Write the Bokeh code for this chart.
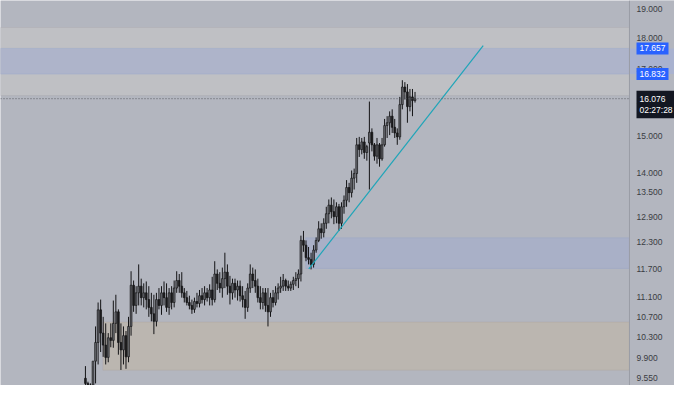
import numpy as np
from bokeh.plotting import figure
from bokeh.models import Range1d, Label, BoxAnnotation, Span, ColumnDataSource
from bokeh.embed import file_html
from bokeh.resources import INLINE

opens = [9.54, 9.45, 9.37, 9.42, 9.85, 10.20, 10.84, 10.38, 10.15, 9.92,
         10.29, 10.24, 10.57, 10.80, 10.20, 10.06, 10.33, 9.93, 10.51, 11.35,
         10.93, 11.19, 11.33, 11.09, 11.19, 11.05, 10.89, 10.76, 10.61, 11.05,
         10.93, 11.19, 11.09, 10.89, 11.19, 10.99, 11.29, 11.45, 11.33, 11.19,
         11.09, 10.99, 10.93, 10.85, 11.01, 10.97, 11.13, 11.05, 11.19, 11.09,
         11.25, 11.05, 11.59, 11.39, 11.29, 11.49, 11.63, 11.33, 11.19, 11.39,
         11.25, 11.33, 11.13, 11.05, 10.89, 11.29, 11.59, 11.45, 11.33, 11.09,
         10.99, 11.19, 10.93, 10.80, 11.09, 10.99, 11.19, 11.29, 11.33, 11.45,
         11.33, 11.29, 11.37, 11.45, 11.49, 11.59, 12.34, 12.23, 11.95, 11.91,
         11.80, 12.12, 12.34, 12.61, 12.52, 12.74, 12.97, 13.18, 13.02, 12.90,
         13.14, 12.74, 13.14, 13.30, 13.62, 13.49, 13.86, 13.98, 14.75, 14.62,
         14.83, 14.54, 14.80, 15.10, 14.75, 14.44, 14.75, 14.37, 14.75, 15.29,
         15.37, 15.56, 15.24, 15.08, 14.97, 15.90, 16.43, 16.28, 15.84, 16.13,
         16.02]
highs = [9.76, 9.48, 9.45, 9.76, 10.51, 10.99, 11.05, 10.70, 10.57, 10.38,
         10.57, 11.03, 11.15, 10.85, 10.57, 10.51, 10.42, 10.70, 11.65, 11.45,
         11.33, 11.80, 11.49, 11.39, 11.43, 11.33, 11.19, 11.15, 11.19, 11.29,
         11.33, 11.43, 11.39, 11.29, 11.33, 11.45, 11.65, 11.59, 11.63, 11.29,
         11.23, 11.13, 11.05, 11.09, 11.19, 11.25, 11.29, 11.33, 11.29, 11.37,
         11.53, 11.87, 11.69, 11.63, 11.73, 12.06, 11.80, 11.55, 11.49, 11.49,
         11.45, 11.45, 11.33, 11.23, 11.39, 11.80, 11.73, 11.69, 11.49, 11.33,
         11.29, 11.29, 11.29, 11.19, 11.25, 11.33, 11.39, 11.53, 11.59, 11.49,
         11.45, 11.43, 11.53, 11.63, 11.69, 12.45, 12.56, 12.34, 12.19, 12.06,
         12.23, 12.41, 12.79, 12.74, 12.86, 13.14, 13.32, 13.37, 13.32, 13.25,
         13.21, 13.25, 13.42, 13.81, 13.74, 14.06, 14.11, 14.94, 14.97, 14.94,
         14.97, 14.75, 15.99, 15.21, 14.80, 14.94, 14.80, 14.94, 15.48, 15.56,
         15.70, 15.76, 15.48, 15.21, 16.13, 16.64, 16.58, 16.52, 16.37, 16.37,
         16.28]
lows = [9.29, 9.26, 9.21, 9.29, 9.45, 9.79, 10.02, 9.93, 9.79, 9.83,
        10.11, 10.10, 10.38, 9.97, 9.69, 9.79, 9.71, 9.83, 10.33, 10.80,
        10.76, 10.93, 10.93, 10.89, 10.85, 10.70, 10.61, 10.36, 10.51, 10.85,
        10.74, 10.93, 10.80, 10.74, 10.85, 10.89, 11.19, 11.19, 11.09, 10.99,
        10.93, 10.85, 10.76, 10.78, 10.89, 10.89, 10.97, 10.93, 11.01, 10.93,
        10.93, 10.99, 11.25, 11.19, 11.09, 11.29, 11.15, 10.95, 11.05, 11.09,
        11.03, 11.01, 10.89, 10.66, 10.80, 11.19, 11.29, 11.19, 10.99, 10.85,
        10.85, 10.80, 10.51, 10.70, 10.89, 10.93, 11.05, 11.19, 11.23, 11.23,
        11.23, 11.23, 11.25, 11.33, 11.29, 11.43, 12.08, 11.87, 11.80, 11.69,
        11.73, 12.06, 12.30, 12.38, 12.41, 12.61, 12.74, 12.86, 12.72, 12.74,
        12.56, 12.61, 12.97, 13.14, 13.25, 13.37, 13.57, 13.74, 14.42, 14.49,
        14.37, 14.32, 13.57, 14.57, 14.32, 14.24, 14.16, 14.32, 14.70, 14.94,
        15.02, 15.08, 14.94, 14.75, 14.89, 15.76, 16.05, 15.37, 15.70, 15.56,
        15.96]
closes = [9.45, 9.37, 9.42, 9.85, 10.20, 10.84, 10.38, 10.15, 9.92, 10.29,
          10.24, 10.57, 10.80, 10.20, 10.06, 10.33, 9.93, 10.51, 11.35, 10.93,
          11.19, 11.33, 11.09, 11.19, 11.05, 10.89, 10.76, 10.61, 11.05, 10.93,
          11.19, 11.09, 10.89, 11.19, 10.99, 11.29, 11.45, 11.33, 11.19, 11.09,
          10.99, 10.93, 10.85, 11.01, 10.97, 11.13, 11.05, 11.19, 11.09, 11.25,
          11.05, 11.59, 11.39, 11.29, 11.49, 11.63, 11.33, 11.19, 11.39, 11.25,
          11.33, 11.13, 11.05, 10.89, 11.29, 11.59, 11.45, 11.33, 11.09, 10.99,
          11.19, 10.93, 10.80, 11.09, 10.99, 11.19, 11.29, 11.33, 11.45, 11.33,
          11.29, 11.37, 11.45, 11.49, 11.59, 12.34, 12.23, 11.95, 11.91, 11.80,
          12.12, 12.34, 12.61, 12.52, 12.74, 12.97, 13.18, 13.02, 12.90, 13.14,
          12.74, 13.14, 13.30, 13.62, 13.49, 13.86, 13.98, 14.75, 14.62, 14.83,
          14.54, 14.70, 15.10, 14.75, 14.44, 14.75, 14.37, 14.75, 15.29, 15.37,
          15.56, 15.24, 15.08, 14.97, 15.90, 16.43, 16.28, 15.84, 16.13, 16.02,
          16.076]

bar_index = list(range(len(closes)))

# horizontal zones (price levels) and their left bar index
band_grey = [16.17, 18.36]
band_blue = [16.832, 17.657]
zone_blue_low = [11.71, 12.40]
zone_blue_low_start = 86.9
zone_beige = [9.686, 10.595]
zone_beige_start = 6.9

trend_x = [88.1, 156.9]
trend_y = [11.70, 17.75]

last_price = 16.076
countdown = "02:27:28"
price_ticks = [9.55, 9.9, 10.3, 10.7, 11.1, 11.7, 12.3, 12.9, 13.5, 14.0, 15.0, 16.0, 17.0, 18.0, 19.0]

# x extent of the chart pane (bar index); the price scale sits to the right of scale_start
x_start, scale_start, x_end = -33.5, 214.6, 232.35

BG = "#b3b6bf"
W, H = 674, 385
PANE_W = 629          # pixel width of the chart pane; the price scale uses the rest
FONT = "Liberation Sans"
FS = "8.5px"

o = np.array(opens); c = np.array(closes)
src = ColumnDataSource(dict(
    x=bar_index, high=highs, low=lows,
    top=np.maximum(o, c), bottom=np.minimum(o, c),
    color=["#6a6c72" if cc >= oo else "#1c1c1e" for oo, cc in zip(opens, closes)],
))

p = figure(width=W, height=H, y_axis_type="log", x_axis_location=None, y_axis_location=None,
           x_range=Range1d(x_start, x_end), y_range=Range1d(9.413, 19.309),
           output_backend="svg", toolbar_location=None, min_border=0)
p.background_fill_color = BG
p.border_fill_color = BG
p.outline_line_color = None
p.grid.visible = False

# zones
p.add_layout(BoxAnnotation(right=scale_start, bottom=band_grey[0], top=band_grey[1], fill_color="#bfc0c4",
                           fill_alpha=1, line_color="#aaa5ab", line_width=1, level="underlay"))
p.add_layout(BoxAnnotation(right=scale_start, bottom=band_blue[0], top=band_blue[1], fill_color="#aeb4ca",
                           fill_alpha=1, line_color="#8fa2d2", line_width=1, level="underlay"))
p.add_layout(BoxAnnotation(left=zone_blue_low_start, right=scale_start, bottom=zone_blue_low[0],
                           top=zone_blue_low[1], fill_color="#a9b0c7", fill_alpha=1,
                           line_color="#909ec8", line_width=1, level="underlay"))
p.add_layout(BoxAnnotation(left=zone_beige_start, right=scale_start, bottom=zone_beige[0], top=zone_beige[1],
                           fill_color="#bbb6b0", fill_alpha=1, line_color="#a8a09a", line_width=1,
                           level="underlay"))

# candles
p.segment(x0="x", y0="low", x1="x", y1="high", source=src, line_color="#141416", line_width=1)
p.vbar(x="x", width=0.7, top="top", bottom="bottom", source=src, fill_color="color",
       line_color="#141416", line_width=0.7)

# trend line
p.line(trend_x, trend_y, line_color="#1fa5b8", line_width=1.2)

# last price line
p.add_layout(Span(location=last_price, dimension="width", line_color="#5a5c62", line_dash="1 2", line_width=1))

# price scale pane
p.add_layout(BoxAnnotation(left=scale_start, fill_color=BG, fill_alpha=1, line_alpha=0))
p.add_layout(BoxAnnotation(left=scale_start, bottom=band_blue[0], top=band_blue[1],
                           fill_color="#a9b2cf", fill_alpha=1, line_alpha=0))
p.add_layout(Span(location=scale_start, dimension="height", line_color="#9a9da6", line_width=1))

TX = PANE_W + 7
for t in price_ticks:
    p.add_layout(Label(x=TX, y=t, x_units="screen", y_units="data", text=f"{t:.3f}",
                       text_font=FONT, text_font_size=FS, text_color="#3a3c42",
                       text_baseline="middle", text_align="left"))

for val in (band_blue[1], band_blue[0]):
    p.add_layout(Label(x=TX, y=val, x_units="screen", y_units="data", text=f"{val:.3f}",
                       text_font=FONT, text_font_size=FS, text_color="white",
                       text_baseline="middle", text_align="left",
                       background_fill_color="#2962ff", padding=3))

p.add_layout(Label(x=TX, y=last_price, x_units="screen", y_units="data",
                   text=f"{last_price:.3f}\n{countdown}", text_font=FONT, text_font_size=FS,
                   text_color="white", text_baseline="top", text_align="left", text_line_height=1.15,
                   y_offset=8, background_fill_color="#131722", padding=3))

open("out.html", "w").write(file_html(p, INLINE))
